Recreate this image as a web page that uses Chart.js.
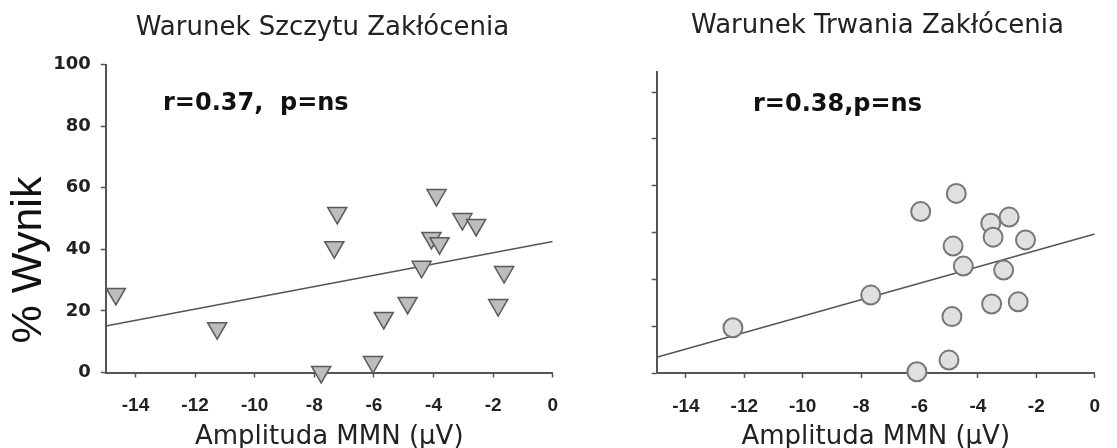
<!DOCTYPE html>
<html>
<head>
<meta charset="utf-8">
<script src="https://cdn.jsdelivr.net/npm/chart.js@4.4.1/dist/chart.umd.min.js"></script>
<style>
  html, body { margin: 0; padding: 0; background: #fff; overflow: hidden; }
  #wrap { position: relative; width: 1117px; height: 448px; }
  .box { position: absolute; top: 0; height: 448px; }
  #left { left: 0; width: 575px; }
  #right { left: 580px; width: 537px; }
</style>
</head>
<body>
<div id="wrap">
  <div class="box" id="left"><canvas id="chartLeft"></canvas></div>
  <div class="box" id="right"><canvas id="chartRight"></canvas></div>
</div>
<script>
// texts
const leftTitle = "Warunek Szczytu Zakłócenia";
const rightTitle = "Warunek Trwania Zakłócenia";
const leftStat = "r=0.37,  p=ns";
const rightStat = "r=0.38,p=ns";
const xTitle = "Amplituda MMN (µV)";
const yTitle = "% Wynik";

// ticks
const xTicks = [-14, -12, -10, -8, -6, -4, -2, 0];
const leftYTicks = [0, 20, 40, 60, 80, 100];
const rightYTicks = [0, 15.2, 30.4, 45.6, 60.8, 76, 91.2];

// peak condition (triangles)
const leftX = [-14.66, -11.26, -7.23, -7.33, -3.9, -3.03, -2.57, -4.07, -3.8, -4.4, -1.63, -4.87, -1.83, -5.67, -6.03, -7.77];
const leftY = [25.5, 14.4, 51.8, 40.7, 57.6, 49.8, 47.9, 43.7, 42.0, 34.3, 32.6, 22.6, 21.9, 17.7, 3.4, 0.2];
const leftFitX = [-15, 0];
const leftFitY = [15.1, 42.5];

// duration condition (circles)
const rightX = [-4.74, -5.96, -3.56, -2.93, -3.48, -2.37, -4.85, -4.5, -3.12, -7.67, -3.53, -2.62, -4.89, -4.99, -6.09, -12.39];
const rightY = [58.3, 52.4, 48.6, 50.6, 44.1, 43.2, 41.2, 34.7, 33.4, 25.3, 22.4, 23.1, 18.3, 4.2, 0.4, 14.7];
const rightFitX = [-15, 0];
const rightFitY = [5.1, 45.1];

const axisColor = "#555";
const zip = (xs, ys) => xs.map((x, i) => ({ x: x, y: ys[i] }));

// draws free text (titles, r/p labels) at canvas positions
const textPlugin = {
    id: "texts",
    afterDraw(chart, args, opts) {
        const ctx = chart.ctx;
        (opts.items || []).forEach((it) => {
            ctx.save();
            ctx.font = it.font;
            ctx.fillStyle = it.color || "#222";
            ctx.textAlign = it.align || "center";
            ctx.textBaseline = "middle";
            ctx.translate(it.x, it.y);
            if (it.rotate) ctx.rotate(it.rotate);
            ctx.fillText(it.text, 0, 0);
            ctx.restore();
        });
    },
};

function makeChart(id, cfg) {
    new Chart(document.getElementById(id), {
        type: "scatter",
        data: {
            datasets: [
                {
                    data: zip(cfg.xs, cfg.ys),
                    pointStyle: cfg.marker,
                    pointRotation: cfg.marker === "triangle" ? 180 : 0,
                    pointRadius: cfg.marker === "triangle" ? 11 : 9.5,
                    pointBackgroundColor: cfg.fill,
                    pointBorderColor: cfg.edge,
                    pointBorderWidth: cfg.marker === "triangle" ? 1.5 : 2,
                    clip: false,
                },
                {
                    data: zip(cfg.fitX, cfg.fitY),
                    showLine: true,
                    pointRadius: 0,
                    borderColor: "#555",
                    borderWidth: 1.5,
                },
            ],
        },
        options: {
            responsive: true,
            maintainAspectRatio: false,
            animation: false,
            events: [],
            layout: { padding: cfg.padding },
            plugins: {
                legend: { display: false },
                tooltip: { enabled: false },
                texts: { items: cfg.texts },
            },
            scales: {
                x: {
                    type: "linear",
                    min: -15,
                    max: 0,
                    afterBuildTicks: (axis) => { axis.ticks = xTicks.map((v) => ({ value: v })); },
                    afterFit: (axis) => { axis.height = cfg.xHeight; },
                    border: { display: true, color: axisColor, width: 2 },
                    grid: { drawOnChartArea: false, tickLength: 5, tickColor: axisColor, tickWidth: 1.5 },
                    ticks: {
                        padding: 17,
                        color: "#222",
                        font: { family: "'Liberation Sans Narrow', 'Liberation Sans', sans-serif", size: 19, weight: "bold" },
                    },
                    title: {
                        display: true,
                        text: xTitle,
                        color: "#222",
                        padding: { top: 0, bottom: -2 },
                        font: { family: "'DejaVu Sans', sans-serif", size: 26, lineHeight: 1 },
                    },
                },
                y: {
                    type: "linear",
                    min: 0,
                    max: cfg.yMax,
                    afterBuildTicks: (axis) => { axis.ticks = cfg.yTicks.map((v) => ({ value: v })); },
                    afterFit: (axis) => { axis.width = cfg.yWidth; },
                    border: { display: true, color: axisColor, width: 2 },
                    grid: { drawOnChartArea: false, tickLength: 5, tickColor: axisColor, tickWidth: 1.5 },
                    ticks: {
                        display: cfg.yLabels,
                        padding: 10,
                        color: "#222",
                        font: { family: "'DejaVu Sans', sans-serif", size: 18, weight: "bold" },
                    },
                },
            },
        },
        plugins: [textPlugin],
    });
}

makeChart("chartLeft", {
    xs: leftX, ys: leftY, fitX: leftFitX, fitY: leftFitY,
    marker: "triangle", fill: "#bdbdbd", edge: "#5a5a5a",
    yMax: 100, yTicks: leftYTicks, yLabels: true,
    yWidth: 105.7, xHeight: 75.5,
    padding: { top: 64.5, right: 18, bottom: 0, left: 0 },
    texts: [
        { text: leftTitle, x: 322.5, y: 28, font: "26px 'DejaVu Sans'" },
        { text: leftStat, x: 163, y: 104, align: "left", color: "#111", font: "bold 24px 'DejaVu Sans'" },
        { text: yTitle, x: 29, y: 260, rotate: -Math.PI / 2, color: "#111", font: "43px 'Liberation Sans'" },
    ],
});

makeChart("chartRight", {
    xs: rightX, ys: rightY, fitX: rightFitX, fitY: rightFitY,
    marker: "circle", fill: "#e0e0e0", edge: "#777",
    yMax: 97.8, yTicks: rightYTicks, yLabels: false,
    yWidth: 76.7, xHeight: 75,
    padding: { top: 71.7, right: 8, bottom: 0, left: 0 },
    texts: [
        { text: rightTitle, x: 297.5, y: 26, font: "26px 'DejaVu Sans'" },
        { text: rightStat, x: 173, y: 105, align: "left", color: "#111", font: "bold 24px 'DejaVu Sans'" },
    ],
});
</script>
</body>
</html>
